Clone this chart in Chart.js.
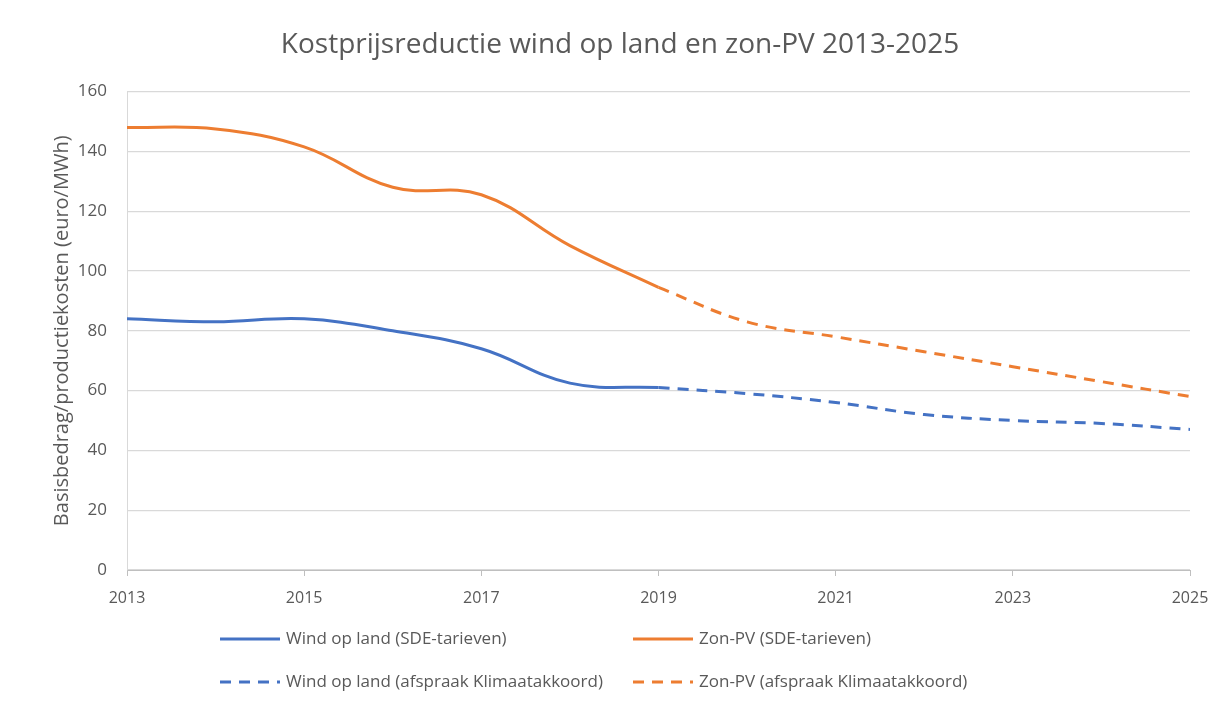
<!DOCTYPE html>
<html>
<head>
<meta charset="utf-8">
<script src="https://cdn.jsdelivr.net/npm/chart.js@4/dist/chart.umd.min.js"></script>
<style>
  html, body { margin: 0; padding: 0; background: #fff; }
  #wrap { width: 1228px; height: 706px; position: relative; }
</style>
</head>
<body>
<div id="wrap"><canvas id="lineChart"></canvas></div>
<script>
// data
var jarenSDE = [2013, 2014, 2015, 2016, 2017, 2018, 2019];
var jarenKA = [2019, 2020, 2021, 2022, 2023, 2024, 2025];
var windSDE = [84, 83, 84, 80, 74, 62.5, 61];
var zonSDE = [148, 147.5, 141.5, 128, 125.5, 108.5, 94.5];
var windKA = [61, 59, 56, 52, 50, 49, 47];
var zonKA = [94.5, 83, 78, 73, 68, 63, 58];
var yTicks = [0, 20, 40, 60, 80, 100, 120, 140, 160];

var labels = ['Wind op land (SDE-tarieven)', 'Zon-PV (SDE-tarieven)',
              'Wind op land (afspraak Klimaatakkoord)', 'Zon-PV (afspraak Klimaatakkoord)'];

var blauw = '#4472C4';
var oranje = '#ED7D31';
var grijs = '#595959';
var FONT = '"Open Sans", sans-serif';

function punten(xs, ys) {
  return xs.map(function (x, i) { return { x: x, y: ys[i] }; });
}

// legend in two columns like the original
var kolomLegenda = {
  id: 'kolomLegenda',
  afterDraw: function (chart) {
    var ctx = chart.ctx;
    var cols = [220, 633];
    var rows = [639, 682];
    ctx.save();
    chart.data.datasets.forEach(function (ds, i) {
      var x = cols[i % 2], y = rows[Math.floor(i / 2)];
      ctx.strokeStyle = ds.borderColor;
      ctx.lineWidth = 3;
      ctx.setLineDash(ds.borderDash || []);
      ctx.beginPath();
      ctx.moveTo(x, y);
      ctx.lineTo(x + 60, y);
      ctx.stroke();
      ctx.setLineDash([]);
      ctx.fillStyle = grijs;
      ctx.font = '17px ' + FONT;
      ctx.textBaseline = 'middle';
      ctx.fillText(ds.label, x + 66, y);
    });
    ctx.restore();
  }
};

var lineChartCanvas = document.getElementById('lineChart').getContext('2d');
var lineChart = new Chart(lineChartCanvas, {
  type: 'line',
  data: {
    datasets: [
      { label: labels[0], data: punten(jarenSDE, windSDE), borderColor: blauw },
      { label: labels[1], data: punten(jarenSDE, zonSDE), borderColor: oranje },
      { label: labels[2], data: punten(jarenKA, windKA), borderColor: blauw, borderDash: [11, 8] },
      { label: labels[3], data: punten(jarenKA, zonKA), borderColor: oranje, borderDash: [11, 8] }
    ]
  },
  options: {
    responsive: true,
    maintainAspectRatio: false,
    animation: false,
    layout: { padding: { left: 50, right: 38, top: 0, bottom: 96 } },
    elements: {
      line: { borderWidth: 3, tension: 0.4, fill: false },
      point: { radius: 0, hoverRadius: 0 }
    },
    plugins: {
      legend: { display: false },
      tooltip: { enabled: false },
      title: {
        display: true,
        text: 'Kostprijsreductie wind op land en zon-PV 2013-2025',
        color: grijs,
        font: { family: FONT, size: 28, weight: 'normal', lineHeight: 1.2 },
        padding: { top: 28, bottom: 30 }
      }
    },
    scales: {
      x: {
        type: 'linear',
        min: 2013,
        max: 2025,
        afterFit: function (scale) { scale.height = 40; },
        ticks: {
          stepSize: 2,
          color: grijs,
          padding: 13,
          maxRotation: 0,
          font: { family: FONT, size: 16 },
          callback: function (v) { return String(v); }
        },
        grid: { drawOnChartArea: false, drawTicks: true, tickLength: 6, color: '#bfbfbf' },
        border: { display: true, color: '#bfbfbf' }
      },
      y: {
        min: 0,
        max: 160,
        afterFit: function (scale) { scale.width = 77; },
        afterBuildTicks: function (scale) {
          scale.ticks = yTicks.map(function (v) { return { value: v }; });
        },
        ticks: {
          color: grijs,
          padding: 20,
          font: { family: FONT, size: 17 }
        },
        grid: { color: '#d9d9d9', drawTicks: false, lineWidth: 1.3 },
        border: { display: true, color: '#d9d9d9' },
        title: {
          display: true,
          text: 'Basisbedrag/productiekosten (euro/MWh)',
          color: grijs,
          font: { family: FONT, size: 20, lineHeight: 1.2 },
          padding: { top: 0, bottom: 0 }
        }
      }
    }
  },
  plugins: [kolomLegenda]
});
</script>
</body>
</html>
